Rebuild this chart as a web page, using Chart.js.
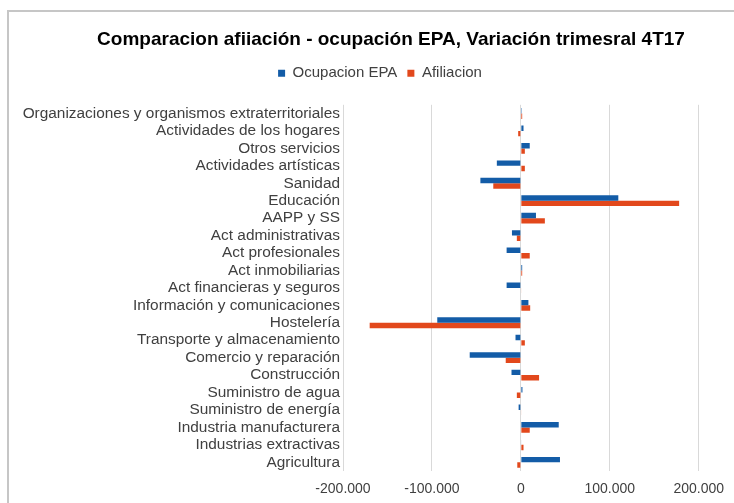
<!DOCTYPE html>
<html>
<head>
<meta charset="utf-8">
<script src="https://cdn.jsdelivr.net/npm/chart.js@4"></script>
<style>
  html, body { margin: 0; padding: 0; background: #fff; overflow: hidden; }
  #frame {
    position: absolute; left: 7px; top: 10px; width: 740px; height: 500px;
    border-left: 2px solid #c6c6c6; border-top: 2px solid #c6c6c6;
  }
  #wrap { position: absolute; left: 0; top: 0; width: 734px; height: 503px; }
</style>
</head>
<body>
<div id="frame"></div>
<div id="wrap"><canvas id="chart"></canvas></div>
<script>
// categories, top to bottom as they appear
const categories = [
    'Organizaciones y organismos extraterritoriales',
    'Actividades de los hogares',
    'Otros servicios',
    'Actividades artísticas',
    'Sanidad',
    'Educación',
    'AAPP y SS',
    'Act administrativas',
    'Act profesionales',
    'Act inmobiliarias',
    'Act financieras y seguros',
    'Información y comunicaciones',
    'Hostelería',
    'Transporte y almacenamiento',
    'Comercio y reparación',
    'Construcción',
    'Suministro de agua',
    'Suministro de energía',
    'Industria manufacturera',
    'Industrias extractivas',
    'Agricultura'
];

const ocupacionEPA = [
    1000, 3000, 10000, -27000, -45500, 109600, 17000, -10000, -16000, 1500,
    -16000, 8500, -94000, -6000, -57500, -10500, 1800, -2500, 42600, 500, 44000
];

const afiliacion = [
    1500, -3000, 4500, 4500, -31000, 178000, 27000, -4500, 10000, 1500,
    500, 10500, -170000, 4500, -17000, 20500, -4500, 500, 10000, 3000, -4000
];

const xTicks = [-200000, -100000, 0, 100000, 200000];

const FONT = "'Liberation Sans', Arial, sans-serif";

function fmt(v) {
    const s = Math.abs(v).toString().replace(/\B(?=(\d{3})+(?!\d))/g, '.');
    return (v < 0 ? '-' : '') + s;
}

// extra room below the legend; shift title and legend right like the original
const headerTweak = {
    id: 'headerTweak',
    beforeInit(chart) {
        const origFit = chart.legend.fit;
        chart.legend.fit = function () {
            origFit.bind(chart.legend)();
            this.height += 14;
        };
    },
    afterLayout(chart) {
        chart.titleBlock.left += 82;
        chart.legend.left += 60;
    }
};

const ctx = document.getElementById('chart');
// eslint-disable-next-line no-undef
new Chart(ctx, {
    type: 'bar',
    data: {
        labels: categories,
        datasets: [{
            label: 'Ocupacion EPA',
            data: ocupacionEPA,
            backgroundColor: '#135ca7',
            borderWidth: 0
        }, {
            label: 'Afiliacion',
            data: afiliacion,
            backgroundColor: '#e2481c',
            borderWidth: 0
        }]
    },
    plugins: [headerTweak],
    options: {
        indexAxis: 'y',
        responsive: true,
        maintainAspectRatio: false,
        animation: false,
        layout: { padding: { left: 0, right: 34, top: 0, bottom: 4 } },
        datasets: {
            bar: { barPercentage: 1, categoryPercentage: 0.62 }
        },
        scales: {
            x: {
                min: -200000,
                max: 200000,
                afterBuildTicks: (scale) => { scale.ticks = xTicks.map(v => ({ value: v })); },
                afterFit: (scale) => { scale.height = 28; },
                grid: { color: '#d9d9d9', drawTicks: false },
                border: { display: false },
                ticks: {
                    color: '#404040',
                    padding: 10,
                    font: { family: FONT, size: 14 },
                    callback: (v) => fmt(v)
                }
            },
            y: {
                afterFit: (scale) => { scale.width = 343; },
                grid: { display: false, drawTicks: false },
                border: { display: false },
                ticks: {
                    color: '#404040',
                    padding: 3,
                    autoSkip: false,
                    font: { family: FONT, size: 15.4 }
                }
            }
        },
        plugins: {
            title: {
                display: true,
                text: 'Comparacion afiiación - ocupación EPA, Variación trimesral 4T17',
                color: '#000',
                padding: { top: 28, bottom: 5 },
                font: { family: FONT, size: 19, weight: 'bold' }
            },
            legend: {
                display: true,
                labels: {
                    color: '#404040',
                    boxWidth: 7,
                    boxHeight: 7,
                    padding: 10,
                    font: { family: FONT, size: 15 }
                }
            },
            tooltip: { enabled: false }
        }
    }
});
</script>
</body>
</html>
